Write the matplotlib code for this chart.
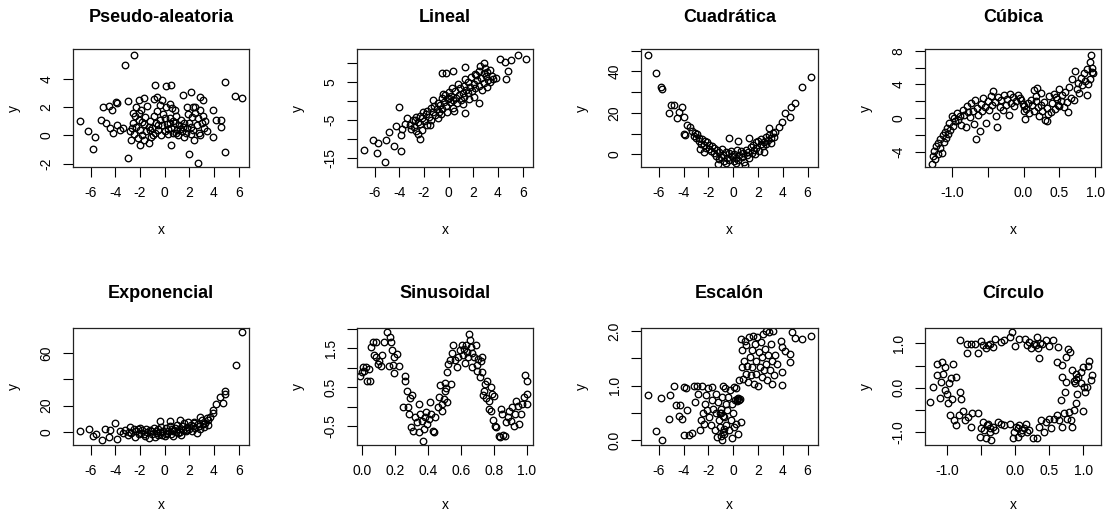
import numpy as np
import matplotlib
matplotlib.use("Agg")
import matplotlib.pyplot as plt

plt.rcParams['font.family'] = ['Liberation Sans', 'DejaVu Sans']

# ---------------- data ----------------
titles = ["Pseudo-aleatoria", "Lineal", "Cuadrática", "Cúbica",
          "Exponencial", "Sinusoidal", "Escalón", "Círculo"]

pseudo_xy = [
    (-6.9, 1.0), (-6.2, 0.33), (-5.65, -0.1), (-5.8, -0.95), (-5.2, 1.1), (-5.0, 2.0), (-4.75, 0.85),
    (-4.55, 2.05), (-4.3, 1.8), (-3.95, 2.35), (-3.9, 2.3), (-4.45, 0.5), (-4.2, 0.15), (-3.9, 0.75),
    (-3.2, 4.95), (-2.45, 5.65), (-3.0, 2.4), (-3.0, -1.6), (-3.6, 0.4), (-3.35, 0.5), (-2.75, -0.3),
    (-2.55, 1.55), (-2.3, 2.0), (-2.05, 2.5), (-1.7, 2.65), (-2.0, -0.7), (-1.25, -0.55), (-0.9, 2.6),
    (-0.75, 3.55), (-0.65, 2.7), (-0.25, 2.5), (0.15, 3.5), (0.5, 3.55), (0.4, 2.25), (0.5, -0.7),
    (0.85, 1.8), (1.5, 2.85), (1.8, 2.0), (2.0, -1.3), (2.1, 3.05), (2.3, 2.0), (2.7, -1.95),
    (2.85, 2.7), (3.15, 2.5), (3.9, 1.8), (3.9, -0.1), (4.2, 1.1), (4.6, 1.1), (4.6, 0.6),
    (4.9, 3.8), (4.9, -1.15), (5.7, 2.75), (6.25, 2.65),
    (-2.8, 0.3), (-2.6, 0.9), (-2.5, 0.1), (-2.4, 1.4), (-2.3, 0.6), (-2.2, -0.2), (-2.1, 1.1),
    (-2.0, 0.4), (-1.9, 1.8), (-1.8, 0.0), (-1.7, 0.8), (-1.6, 1.3), (-1.5, 0.3), (-1.4, 2.1),
    (-1.3, 0.6), (-1.2, 1.0), (-1.1, -0.1), (-1.0, 0.5), (-0.9, 1.4), (-0.8, 0.2), (-0.7, 0.9),
    (-0.6, 1.7), (-0.5, 0.4), (-0.4, 1.1), (-0.3, 0.0), (-0.2, 0.7), (-0.1, 1.5), (0.0, 0.3),
    (0.1, 2.0), (0.2, 0.8), (0.3, 0.1), (0.4, 1.2), (0.5, 0.5), (0.6, 1.9), (0.7, 0.2), (0.8, 0.9),
    (0.9, 1.4), (1.0, 0.4), (1.1, 0.0), (1.2, 0.7), (1.3, 1.1), (1.4, 0.3), (1.5, 0.6), (1.6, -0.1),
    (1.7, 0.2), (1.8, 0.5), (1.9, 1.5), (2.0, 0.9), (2.1, 0.1), (2.2, 1.3), (2.3, 0.4), (2.4, -0.3),
    (2.5, 1.6), (2.6, 0.7), (2.7, 1.2), (2.8, 0.2), (2.9, 1.8), (3.0, 0.9), (3.1, 1.4), (3.2, 0.5),
    (3.3, 1.0), (-1.15, 0.35), (-0.55, 0.75), (0.25, 0.45), (0.95, 0.15), (1.55, 0.85), (-2.05, 1.6),
    (-0.35, 2.15), (0.65, 1.05), (2.15, 0.6), (2.85, 0.0), (-1.65, -0.3), (-0.95, 0.05), (0.45, 0.85),
    (1.25, 0.45), (3.45, 0.3), (-2.65, 0.55), (-1.85, 0.95), (0.05, 1.25), (2.45, 2.0),
]

lineal_xy = [
    (-6.9, -12.9), (-6.15, -10.2), (-5.8, -13.7), (-5.7, -11.2), (-5.15, -16.1), (-5.05, -10.2),
    (-4.8, -8.2), (-4.45, -11.9), (-4.3, -6.7), (-4.0, -1.6), (-3.9, -13.2), (-3.9, -8.9), (-3.75, -7.5),
    (-3.5, -6.0), (-2.35, -10.0), (-0.5, 7.4), (-0.2, 7.4), (0.35, 7.8), (1.3, 9.0), (1.35, -3.2),
    (2.9, 10.0), (2.5, -0.6), (4.15, 11.0), (4.6, 10.4), (4.65, 5.9), (4.85, 7.8), (5.05, 10.7),
    (5.65, 12.2), (6.3, 11.0), (3.85, 6.0),
    (-3.17, -6.2), (-3.04, -7.5), (-2.88, -5.1), (-2.83, -6.8), (-2.66, -4.2), (-2.61, -7.9),
    (-2.47, -5.5), (-2.36, -3.9), (-2.33, -6.1), (-2.18, -4.6), (-2.06, -2.9), (-2.03, -5.3),
    (-1.87, -3.4), (-1.79, -6.4), (-1.72, -2.6), (-1.58, -4.1), (-1.46, -1.9), (-1.43, -5.0),
    (-1.27, -3.0), (-1.16, -1.4), (-1.12, -3.7), (-0.97, -2.2), (-0.86, -0.6), (-0.82, -2.9),
    (-0.68, -1.1), (-0.57, 0.8), (-0.52, -2.0), (-0.38, -0.3), (-0.27, 1.5), (-0.23, -1.2),
    (-0.07, 0.6), (0.04, 2.4), (0.12, -0.4), (0.22, 1.2), (0.33, -1.8), (0.38, 0.3), (0.53, 2.5),
    (0.62, 0.9), (0.68, -0.6), (0.83, 1.7), (0.94, 3.3), (0.97, 0.2), (1.13, 2.2), (1.24, 4.0),
    (1.27, 1.0), (1.42, 2.9), (1.53, 5.1), (1.58, 2.0), (1.73, 3.8), (1.84, 6.3), (1.87, 2.6),
    (2.03, 4.6), (2.14, 7.2), (2.17, 3.3), (2.32, 5.4), (2.43, 8.0), (2.48, 4.0), (2.62, 6.1),
    (2.68, 2.8), (2.83, 7.5), (2.88, 4.8), (3.03, 6.7), (3.08, 3.6), (3.22, 5.6), (3.33, 8.2),
    (3.38, 4.9), (3.52, 6.5),
    (-2.45, -8.6), (-1.55, -6.2), (-0.65, -3.4), (0.25, 3.4), (1.15, -0.9), (2.05, 1.1), (2.95, 8.6),
    (-3.35, -4.6), (-0.15, -2.8), (0.75, 4.4), (1.65, 0.6), (2.55, 9.1), (3.15, 7.7), (-1.25, 0.3),
    (-2.15, -7.6), (0.45, -2.6), (1.35, 5.9), (2.25, 6.9), (-2.75, -4.9), (-0.85, -4.5), (3.6, 5.8),
    (0.05, 0.9), (-0.45, 1.9),
]

cuadratica_xy = [
    (-6.85, 48.1), (-6.2, 39.2), (-5.8, 32.4), (-5.75, 31.4), (-5.15, 20.1), (-5.05, 23.8), (-4.8, 23.8),
    (-4.5, 17.3), (-4.4, 20.6), (-4.1, 22.7), (-4.0, 18.2), (-4.0, 10.0), (-3.9, 9.2), (-3.7, 14.1),
    (-3.5, 13.3), (-0.3, 8.1), (0.35, 6.5), (1.3, 8.1), (5.55, 32.4), (6.25, 37.3), (4.95, 24.6),
    (4.65, 22.7), (4.55, 17.8), (4.15, 20.1), (3.9, 15.7), (3.7, 13.0), (3.4, 10.9), (2.85, 12.5),
    (-3.33, 11.5), (-3.18, 8.9), (-3.07, 10.2), (-2.96, 7.8), (-2.91, 9.6), (-2.77, 6.3), (-2.72, 8.1),
    (-2.58, 5.2), (-2.52, 7.4), (-2.37, 4.5), (-2.31, 6.2), (-2.17, 3.1), (-2.12, 5.8), (-1.98, 2.4),
    (-1.93, 4.6), (-1.78, 1.7), (-1.71, 3.8), (-1.57, 0.6), (-1.52, 2.9), (-1.38, -0.8), (-1.32, 1.9),
    (-1.18, -2.1), (-1.12, 0.9), (-0.97, -1.3), (-0.92, 2.6), (-0.78, -0.2), (-0.72, -3.4), (-0.58, 1.2),
    (-0.52, -1.6), (-0.37, 0.5), (-0.32, -2.7), (-0.18, 1.8), (-0.12, -0.9), (0.03, -3.2), (0.08, 0.3),
    (0.23, -1.9), (0.28, 2.2), (0.43, -2.8), (0.48, -0.5), (0.63, 1.5), (0.68, -1.4), (0.83, 0.6),
    (0.88, -3.5), (1.03, 2.3), (1.08, -0.4), (1.22, 1.1), (1.28, -1.8), (1.42, 3.4), (1.48, 0.7), (1.62, 4.6),
    (1.68, 2.1), (1.83, 5.9), (1.88, 3.0), (2.02, 6.6), (2.08, 1.4), (2.23, 5.1), (2.28, 7.4), (2.42, 3.8),
    (2.48, 6.0), (2.63, 8.2), (2.68, 4.9), (2.82, 7.0), (2.88, 9.1), (3.02, 5.6), (3.08, 7.9), (3.22, 10.3),
    (3.28, 8.6), (-1.25, -4.8), (0.95, -4.9), (-0.55, -4.1), (0.25, -4.4), (-2.35, 1.2), (1.75, 0.4),
    (-2.65, 2.6), (2.45, 1.0),
]

cubica_xy = [
    (-1.28, -5.4), (-1.26, -4.5), (-1.25, -3.9), (-1.23, -4.8), (-1.22, -3.3), (-1.2, -4.2),
    (-1.19, -2.9), (-1.17, -3.6), (-1.16, -2.5), (-1.14, -4.1), (-1.13, -2.0), (-1.11, -2.8),
    (-1.1, -1.6), (-1.08, -2.3), (-1.07, -1.2), (-1.05, -1.9), (-1.04, -0.6), (-1.02, -1.4),
    (-1.0, 0.3), (-0.99, -0.9), (-0.97, 0.0), (-0.95, -0.4), (-0.93, 0.6), (-0.91, -0.2),
    (-0.89, 0.2), (-0.87, -0.8), (-0.85, 1.0), (-0.83, 0.4), (-0.81, -1.1), (-0.79, 1.4),
    (-0.77, 0.7), (-0.75, 0.1), (-0.73, 1.8), (-0.71, 0.9), (-0.69, -0.7), (-0.68, 2.2),
    (-0.66, -2.5), (-0.65, 1.2), (-0.63, 0.4), (-0.61, -1.5), (-0.6, 1.7), (-0.58, 0.8),
    (-0.56, 2.4), (-0.54, 1.3), (-0.52, -0.6), (-0.5, 2.0), (-0.48, 1.0), (-0.46, 2.6),
    (-0.44, 1.5), (-0.42, 3.2), (-0.4, 1.9), (-0.38, 0.2), (-0.37, -1.1), (-0.35, 2.5),
    (-0.33, 1.3), (-0.31, 2.2), (-0.29, 1.0), (-0.27, 2.8), (-0.25, 1.6), (-0.23, 2.3),
    (-0.21, 0.4), (-0.19, 2.9), (-0.17, 1.8), (-0.15, 2.5), (-0.13, 1.4), (-0.11, 2.0),
    (-0.08, 2.7), (-0.05, 2.4), (0.0, 0.9), (0.01, 1.4), (0.02, -0.1), (0.03, 1.1), (0.06, 1.8),
    (0.08, 0.6), (0.1, 2.2), (0.12, 1.5), (0.14, 3.3), (0.15, 0.9), (0.17, 2.6), (0.19, 3.6),
    (0.2, 1.3), (0.22, 0.2), (0.24, 3.0), (0.26, 0.8), (0.28, 1.9), (0.3, -0.2), (0.32, 1.2),
    (0.34, 0.5), (0.36, 2.6), (0.38, 0.7), (0.4, 1.8), (0.42, 2.9), (0.44, 1.1), (0.46, 2.3),
    (0.48, 1.6), (0.5, 3.4), (0.52, 2.0), (0.54, 2.8), (0.56, 1.3), (0.58, 3.1), (0.6, 1.9),
    (0.62, 0.7), (0.64, 3.7), (0.66, 2.4), (0.68, 4.6), (0.7, 2.2), (0.72, 5.6), (0.74, 3.4),
    (0.76, 4.2), (0.78, 3.0), (0.8, 4.8), (0.82, 3.9), (0.84, 5.3), (0.86, 4.4), (0.88, 2.7),
    (0.89, 5.8), (0.9, 4.0), (0.92, 6.6), (0.93, 4.7), (0.94, 7.5), (0.95, 5.5), (0.96, 6.0),
    (0.97, 5.3), (-0.01, 1.7), (-0.03, 2.2), (0.18, 2.0), (0.25, 1.6), (0.33, -0.3), (0.45, 2.5),
    (0.5, 1.4),
]

exponencial_xy = [
    (-6.9, 0.8), (-6.1, 2.0), (-5.6, -1.3), (-5.8, -3.3), (-5.1, -6.4), (-4.8, 2.0), (-4.4, 1.3),
    (-4.0, 6.4), (-3.9, -5.1), (-4.55, -3.8), (5.75, 50.9), (6.25, 76.3), (4.9, 31.0), (4.9, 28.8),
    (4.7, 21.6), (4.5, 26.2), (4.2, 20.9), (3.95, 16.5), (3.95, 14.0), (3.7, 11.5), (3.55, 8.9),
    (2.85, 11.5), (1.25, 8.9), (0.45, 8.1), (-0.4, 8.4),
    (-3.2, 1.5), (-3.0, -2.4), (-2.8, 3.8), (-2.7, -0.5), (-2.5, 1.9), (-2.4, -4.2), (-2.3, 0.8),
    (-2.1, -1.9), (-2.0, 3.2), (-1.9, -0.9), (-1.8, 1.1), (-1.6, -3.1), (-1.5, 2.4), (-1.4, -0.2),
    (-1.3, -4.8), (-1.2, 1.5), (-1.0, -1.6), (-0.9, 2.9), (-0.8, -3.6), (-0.7, 0.4), (-0.6, -1.1),
    (-0.5, 2.1), (-0.4, -0.4), (-0.3, 3.9), (-0.2, -2.2), (-0.1, 1.0), (0.0, -3.0), (0.1, 2.6),
    (0.2, -0.8), (0.3, 0.6), (0.4, 4.3), (0.5, -1.5), (0.6, 1.8), (0.7, -3.4), (0.8, 3.0), (0.9, 0.2),
    (1.0, 5.2), (1.1, -0.9), (1.2, 2.2), (1.3, -2.5), (1.4, 4.6), (1.5, 1.3), (1.6, 6.4), (1.7, 0.4),
    (1.8, 3.6), (1.9, 7.5), (2.0, 2.5), (2.1, 5.5), (2.2, 0.9), (2.3, 4.1), (2.4, 7.8), (2.5, 3.1),
    (2.6, -1.0), (2.7, 6.1), (2.8, 4.4), (2.9, 2.0), (3.0, 8.7), (3.1, 5.7), (3.2, 3.5), (3.3, 7.1),
    (3.4, 10.4), (3.5, 5.2), (-2.9, 0.2), (-2.2, 2.0), (-1.7, -1.4), (-1.1, 0.5), (-0.55, -2.6),
    (0.15, -1.4), (0.65, 0.9), (1.25, 0.1), (1.85, 1.6), (2.35, 6.6), (-3.4, -0.8), (-3.6, 0.9),
]

sinusoidal_xy = [
    (-0.014, 0.80), (0.006, 1.01), (0.012, 0.93), (0.0, 0.88), (0.02, 1.03), (0.027, 0.65),
    (0.047, 0.65), (0.043, 0.97), (0.053, 1.53), (0.067, 1.66), (0.082, 1.66), (0.073, 1.34),
    (0.084, 1.27), (0.094, 1.10), (0.10, 1.17), (0.114, 1.06), (0.129, 1.66), (0.122, 1.33),
    (0.149, 1.92), (0.159, 1.06), (0.165, 1.79), (0.173, 1.66), (0.18, 1.45), (0.184, 1.08),
    (0.192, 1.29), (0.19, 0.86), (0.21, 1.36), (0.22, 1.06), (0.257, 0.80), (0.261, 0.67),
    (0.247, -0.01), (0.271, 0.41), (0.278, -0.02), (0.282, -0.20), (0.292, 0.23), (0.302, 0.30),
    (0.298, -0.54), (0.306, -0.63), (0.318, -0.28), (0.333, -0.41), (0.343, 0.06), (0.347, -0.67),
    (0.353, -0.20), (0.363, -0.37), (0.367, -0.89), (0.373, -0.59), (0.38, -0.28), (0.388, -0.15),
    (0.394, -0.46), (0.404, -0.33), (0.41, 0.11), (0.42, -0.20), (0.429, -0.63), (0.435, -0.67),
    (0.441, -0.28), (0.459, -0.02), (0.465, 0.24), (0.471, 0.56), (0.482, -0.11), (0.486, 0.06),
    (0.496, 0.19), (0.502, 0.41), (0.506, 0.60), (0.512, 0.49), (0.516, 0.11), (0.518, 0.88),
    (0.522, 1.10), (0.531, 1.19), (0.537, 0.58), (0.543, 1.38), (0.551, 1.58), (0.563, 1.19),
    (0.578, 1.01), (0.584, 1.27), (0.592, 1.45), (0.604, 1.58), (0.612, 1.34), (0.618, 1.49),
    (0.624, 1.12), (0.633, 1.60), (0.639, 1.40), (0.645, 1.27), (0.649, 1.88), (0.653, 1.71),
    (0.659, 1.55), (0.665, 1.38), (0.669, 1.01), (0.68, 1.27), (0.69, 1.58), (0.696, 1.08),
    (0.70, 0.93), (0.706, 1.23), (0.714, 0.77), (0.72, 1.17), (0.727, 0.88), (0.731, 1.27),
    (0.735, 0.30), (0.741, 0.41), (0.747, 0.58), (0.751, 0.23), (0.761, 0.67), (0.771, 0.15),
    (0.782, 0.51), (0.792, 0.32), (0.802, 0.28), (0.771, -0.07), (0.782, -0.11), (0.796, -0.35),
    (0.808, -0.50), (0.816, -0.54), (0.829, -0.76), (0.837, -0.80), (0.843, -0.07), (0.849, -0.20),
    (0.857, -0.73), (0.869, -0.76), (0.873, -0.41), (0.884, -0.28), (0.894, -0.11), (0.904, -0.37),
    (0.914, -0.02), (0.924, -0.50), (0.931, -0.20), (0.935, 0.15), (0.945, 0.02), (0.955, -0.46),
    (0.965, -0.20), (0.975, 0.06), (0.986, 0.24), (0.992, 0.82), (1.0, 0.65), (1.0, 0.32),
    (1.0, 0.06),
]

escalon_xy = [
    (-6.86, 0.82), (-6.19, 0.17), (-5.73, 0.01), (-5.78, 0.77), (-5.06, 0.82), (-5.14, 0.38),
    (-4.73, 1.0), (-4.6, 0.65), (-4.38, 0.45), (-4.25, 0.65), (-4.1, 0.38), (-3.98, 0.98),
    (-3.84, 0.96), (-3.76, 0.55), (-3.98, 0.09), (-3.57, 0.09), (-3.3, 0.13), (-3.17, 0.99),
    (-3.04, 0.70), (-2.9, 0.99), (-2.85, 0.85), (-2.7, 0.18), (-2.63, 0.37), (-2.5, 0.99),
    (-2.44, 0.49), (-2.36, 0.30), (-2.28, 0.67), (-2.17, 0.82), (-2.09, 0.55), (-2.0, 0.95),
    (-1.96, 0.43), (-1.82, 0.27), (-1.74, 0.73), (-1.69, 0.98), (-1.63, 0.58), (-1.5, 0.18),
    (-1.42, 0.85), (-1.36, 0.49), (-1.28, 0.06), (-1.2, 0.70), (-1.15, 0.37), (-1.07, 0.24),
    (-1.01, 0.58), (-0.96, 0.49), (-0.93, 0.0), (-0.88, 0.79), (-0.82, 1.0), (-0.77, 0.12),
    (-0.72, 0.43), (-0.66, 0.95), (-0.61, 0.67), (-0.56, 0.27), (-0.47, 0.55), (-0.39, 0.79),
    (-0.34, 0.18), (-0.29, 0.92), (-0.2, 0.37), (-0.12, 0.67), (-0.07, 0.03), (-0.02, 0.49),
    (0.04, 0.98), (0.09, 0.24), (0.15, 0.73), (0.2, 0.95), (0.25, 0.30), (0.33, 0.76), (0.42, 0.12),
    (0.47, 0.73), (0.52, 0.75), (0.6, 0.34), (-0.85, 0.15), (-0.75, 0.2), (-0.95, 0.08),
    (-0.8, 0.45), (-1.1, 0.5), (0.3, 0.72), (0.38, 0.78),
    (0.47, 1.10), (0.6, 1.86), (0.68, 1.65), (0.74, 1.34), (0.79, 1.12), (0.87, 1.46), (0.95, 1.83),
    (1.0, 1.22), (1.06, 1.74), (1.14, 1.37), (1.22, 1.07), (1.28, 1.89), (1.33, 1.52), (1.41, 1.19),
    (1.49, 1.65), (1.55, 1.34), (1.6, 1.92), (1.68, 1.04), (1.76, 1.77), (1.82, 1.46), (1.87, 1.22),
    (1.95, 1.89), (2.0, 1.0), (2.09, 1.62), (2.14, 1.34), (2.22, 1.80), (2.3, 1.16), (2.36, 1.52),
    (2.41, 1.95), (2.49, 1.28), (2.57, 1.68), (2.63, 2.0), (2.68, 1.40), (2.76, 1.10), (2.84, 1.56),
    (2.9, 1.98), (2.95, 1.28), (3.03, 1.77), (3.11, 1.04), (3.16, 1.46), (3.22, 2.0), (3.3, 1.19),
    (3.38, 1.56), (3.57, 1.40), (3.84, 1.83), (3.92, 1.71), (3.97, 1.25), (3.97, 1.02), (4.19, 1.63),
    (4.59, 1.59), (4.59, 1.43), (4.78, 1.98), (5.0, 1.88), (5.54, 1.85), (6.27, 1.91),
]

circulo_xy = [
    (-1.24, -0.31), (-1.2, 0.02), (-1.15, 0.28), (-1.14, 0.53), (-1.07, 0.58), (-1.05, 0.32),
    (-1.02, 0.47), (-1.09, 0.13), (-1.1, -0.22), (-1.03, -0.05), (-1.0, -0.14), (-0.99, -0.35),
    (-0.97, 0.10), (-0.94, 0.21), (-0.91, 0.53), (-0.87, 0.25), (-0.92, -0.24), (-0.8, -0.09),
    (-0.79, -0.26), (-0.95, -0.61), (-0.9, -0.72), (-0.86, -0.84), (-0.82, -0.61), (-0.76, -0.51),
    (-0.73, -0.72), (-0.69, -0.65), (-0.65, -0.87), (-0.63, -0.56), (-0.55, -0.56), (-0.52, -1.10),
    (-0.5, -0.91), (-0.47, -0.76), (-0.45, -0.95), (-0.42, -1.13), (-0.41, -0.84), (-0.37, -0.99),
    (-0.35, -1.17), (-0.33, -0.87), (-0.3, -0.95), (-0.25, -0.76), (-0.21, -0.80), (-0.16, -0.84),
    (-0.07, -0.80), (-0.03, -1.13), (-0.01, -0.99), (0.01, -0.87), (0.04, -1.10), (0.06, -0.84),
    (0.09, -1.02), (0.13, -0.91), (0.16, -0.80), (0.18, -0.99), (0.21, -0.95), (0.26, -1.13),
    (0.32, -1.13), (0.35, -0.87), (0.38, -0.72), (0.42, -0.99), (0.45, -0.76), (0.5, -0.69),
    (0.53, -0.91), (0.57, -0.69), (0.61, -0.61), (0.65, -0.72), (0.69, -0.87), (0.72, -0.57),
    (0.76, -0.69), (0.79, -0.54), (0.82, -0.72), (0.84, -0.87), (0.86, -0.50), (0.89, -0.35),
    (0.91, -0.13), (1.0, -0.51), (1.03, -0.09), (1.01, 0.02), (0.96, 0.10), (0.92, 0.25),
    (0.89, 0.32), (0.86, 0.16), (0.84, 0.40), (0.96, 0.36), (0.99, 0.47), (1.07, 0.49), (1.08, 0.60),
    (1.13, 0.28), (1.11, 0.17), (1.06, 0.02), (0.81, 0.81), (0.78, 0.86), (0.74, 0.69), (0.69, 0.51),
    (0.62, 0.58), (0.67, -0.28), (0.69, 0.25), (0.74, 0.13), (0.73, -0.09), (0.63, 0.92),
    (0.56, 1.08), (0.5, 0.93), (0.45, 1.07), (0.4, 0.98), (0.35, 0.66), (0.32, 1.14), (0.28, 0.99),
    (0.24, 0.90), (0.21, 1.03), (0.17, 0.96), (0.14, 1.10), (0.06, 1.10), (0.0, 0.93), (-0.05, 1.25),
    (-0.08, 1.13), (-0.16, 1.07), (-0.2, 1.03), (-0.3, 1.10), (-0.33, 0.92), (-0.37, 0.98),
    (-0.42, 0.90), (-0.47, 0.96), (-0.5, 1.05), (-0.58, 0.98), (-0.55, 0.77), (-0.7, 0.77),
    (-0.7, 0.98), (-0.81, 1.07), (-0.64, 0.99), (0.3, 0.95), (0.33, 0.9), (0.36, 1.0), (-0.4, 0.95),
    (-0.36, -0.9), (-0.4, -0.8), (0.1, -0.95), (0.05, -0.9), (0.9, 0.2), (0.88, 0.1),
]

panel_data = [pseudo_xy, lineal_xy, cuadratica_xy, cubica_xy,
              exponencial_xy, sinusoidal_xy, escalon_xy, circulo_xy]

# tick values and their labels (R drops labels that would overlap)
norm_xticks = [-6, -4, -2, 0, 2, 4, 6]
norm_xlabels = ["-6", "-4", "-2", "0", "2", "4", "6"]
unit_xticks = [-1.0, -0.5, 0.0, 0.5, 1.0]
unit_xlabels = ["-1.0", "", "0.0", "0.5", "1.0"]
sin_xticks = [0.0, 0.2, 0.4, 0.6, 0.8, 1.0]
sin_xlabels = ["0.0", "0.2", "0.4", "0.6", "0.8", "1.0"]

yticks = [
    ([-2, 0, 2, 4], ["-2", "0", "2", "4"]),
    ([-15, -10, -5, 0, 5, 10], ["-15", "", "-5", "", "5", ""]),
    ([0, 10, 20, 30, 40, 50], ["0", "", "20", "", "40", ""]),
    ([-4, -2, 0, 2, 4, 6, 8], ["-4", "", "0", "", "4", "", "8"]),
    ([0, 20, 40, 60], ["0", "20", "", "60"]),
    ([-0.5, 0.0, 0.5, 1.0, 1.5, 2.0], ["-0.5", "", "0.5", "", "1.5", ""]),
    ([0.0, 0.5, 1.0, 1.5, 2.0], ["0.0", "", "1.0", "", "2.0"]),
    ([-1.0, -0.5, 0.0, 0.5, 1.0], ["-1.0", "", "0.0", "", "1.0"]),
]
xticks = [
    (norm_xticks, norm_xlabels), (norm_xticks, norm_xlabels), (norm_xticks, norm_xlabels),
    (unit_xticks, unit_xlabels), (norm_xticks, norm_xlabels), (sin_xticks, sin_xlabels),
    (norm_xticks, norm_xlabels), (unit_xticks, unit_xlabels),
]

# ---------------- layout (pixel boxes of the plot regions) ----------------
W, H = 1106, 515
col_px = [(73, 249), (357, 533), (641, 818), (925, 1101)]
row_px = [(49, 167), (328, 445)]
limits = [
    ((-7.43, 6.84), (-2.23, 6.1)),
    ((-7.43, 6.84), (-17.4, 13.7)),
    ((-7.43, 6.84), (-6.1, 50.8)),
    ((-1.375, 1.08), (-5.8, 8.2)),
    ((-7.43, 6.84), (-10.0, 79.0)),
    ((-0.033, 1.039), (-0.995, 2.03)),
    ((-7.43, 6.84), (-0.09, 2.06)),
    ((-1.32, 1.26), (-1.28, 1.34)),
]

fig = plt.figure(figsize=(W / 100, H / 100), dpi=100)

for i in range(8):
    r, c = divmod(i, 4)
    x0, x1 = col_px[c]
    y0, y1 = row_px[r]
    ax = fig.add_axes([x0 / W, 1 - y1 / H, (x1 - x0) / W, (y1 - y0) / H])
    pts = np.array(panel_data[i])
    ax.plot(pts[:, 0], pts[:, 1], linestyle="none", marker="o", markersize=4.7,
            markerfacecolor="none", markeredgecolor="black", markeredgewidth=0.95)
    ax.set_xlim(*limits[i][0])
    ax.set_ylim(*limits[i][1])
    xt, xl = xticks[i]
    yt, yl = yticks[i]
    ax.set_xticks(xt)
    ax.set_xticklabels(xl)
    ax.set_yticks(yt)
    ax.set_yticklabels(yl, rotation=90, va="center")
    ax.tick_params(direction="out", length=7, width=0.8, labelsize=10, pad=7, colors="black")
    for sp in ax.spines.values():
        sp.set_linewidth(0.9)
        sp.set_color("#222222")
    h = y1 - y0
    title_y = 1 + (32 if r == 0 else 34) / h
    ax.text(0.5, title_y, titles[i], transform=ax.transAxes, ha="center", va="center",
            fontsize=13, fontweight="bold")
    xlab_y = -(63 if r == 0 else 60) / h
    ax.text(0.5, xlab_y, "x", transform=ax.transAxes, ha="center", va="center", fontsize=10)
    ax.text(-59 / (x1 - x0), 0.5, "y", transform=ax.transAxes, ha="center", va="center",
            fontsize=10, rotation=90)

fig.savefig("out.png", dpi=100)
